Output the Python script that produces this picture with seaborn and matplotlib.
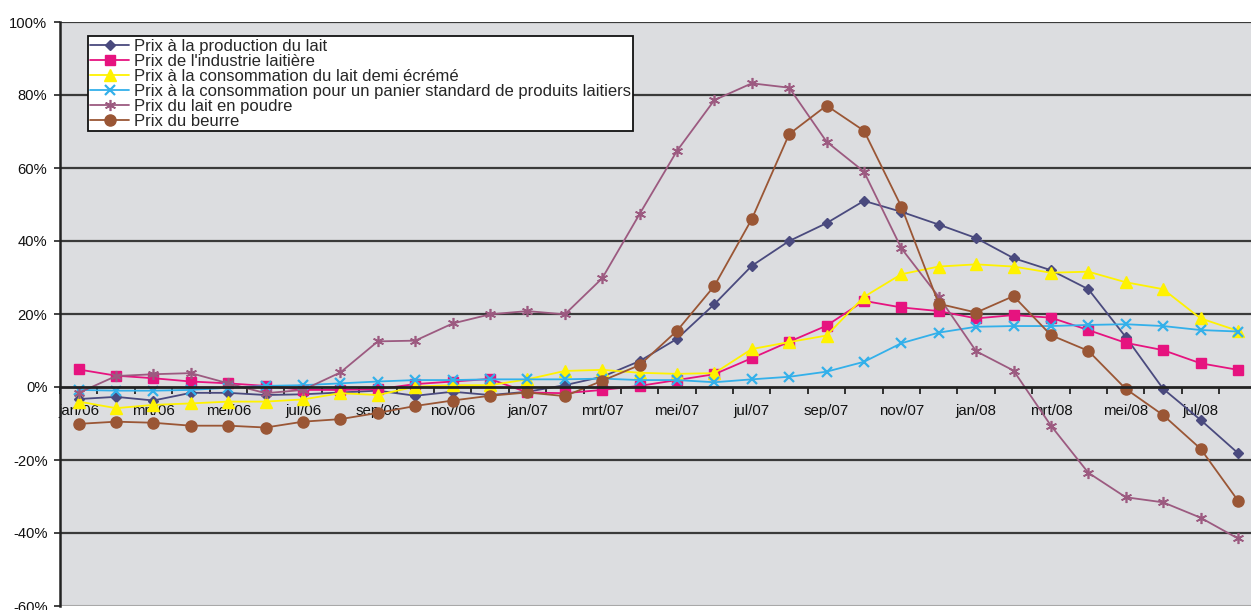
import matplotlib
matplotlib.use("Agg")
import matplotlib.pyplot as plt
import seaborn as sns
import numpy as np
import pandas as pd

months = ["jan/06", "feb/06", "mrt/06", "apr/06", "mei/06", "jun/06", "jul/06", "aug/06",
          "sep/06", "okt/06", "nov/06", "dec/06", "jan/07", "feb/07", "mrt/07", "apr/07",
          "mei/07", "jun/07", "jul/07", "aug/07", "sep/07", "okt/07", "nov/07", "dec/07",
          "jan/08", "feb/08", "mrt/08", "apr/08", "mei/08", "jun/08", "jul/08", "aug/08"]

prix_production = [-3.3, -2.7, -3.7, -1.6, -1.6, -2.2, -2.0, -1.5, -1.0, -2.4, -1.3, -2.2,
                   -1.3, 0.5, 2.8, 7.1, 13.2, 22.7, 33.2, 40.0, 44.9, 51.0, 48.0, 44.5,
                   40.8, 35.3, 32.0, 26.8, 13.7, -0.5, -9.0, -18.1]
prix_industrie = [4.8, 3.1, 2.4, 1.5, 1.0, 0.3, -0.8, -0.8, -0.6, 0.8, 1.5, 2.2,
                  -1.5, -1.7, -0.8, 0.3, 1.9, 3.5, 7.9, 12.4, 16.8, 23.6, 21.8, 20.8,
                  18.8, 19.7, 19.0, 15.6, 12.1, 10.1, 6.5, 4.7]
prix_demi_ecreme = [-4.0, -5.8, -4.9, -4.5, -4.0, -4.0, -3.4, -1.7, -2.2, 0.1, 0.5, 0.5,
                    2.1, 4.4, 4.7, 3.9, 3.6, 3.8, 10.4, 12.3, 14.1, 24.7, 30.9, 33.0,
                    33.6, 33.0, 31.3, 31.6, 28.7, 26.8, 18.8, 15.4]
prix_panier = [-0.8, -1.0, -1.0, -0.8, -0.2, 0.3, 0.5, 1.0, 1.5, 1.9, 1.9, 2.1,
               2.1, 2.1, 2.3, 1.9, 1.9, 1.3, 2.1, 2.8, 4.2, 6.9, 12.0, 14.9,
               16.5, 16.7, 16.7, 17.0, 17.2, 16.7, 15.6, 15.2]
prix_poudre = [-1.6, 3.0, 3.5, 3.8, 1.0, -1.7, -0.8, 4.0, 12.5, 12.7, 17.4, 19.9,
               20.8, 19.9, 29.8, 47.4, 64.7, 78.6, 83.2, 82.0, 67.2, 59.0, 38.0, 24.7,
               9.8, 4.5, -10.6, -23.5, -30.2, -31.6, -35.8, -41.5]
prix_beurre = [-10.1, -9.5, -9.8, -10.6, -10.6, -11.1, -9.5, -8.8, -7.1, -5.2, -3.7, -2.4,
               -1.5, -2.5, 1.7, 6.0, 15.4, 27.7, 46.0, 69.3, 77.1, 70.2, 49.4, 22.8,
               20.4, 24.9, 14.2, 9.9, -0.5, -7.7, -16.9, -31.1]

series_names = ["Prix à la production du lait",
                "Prix de l'industrie laitière",
                "Prix à la consommation du lait demi écrémé",
                "Prix à la consommation pour un panier standard de produits laitiers",
                "Prix du lait en poudre",
                "Prix du beurre"]
series_values = [prix_production, prix_industrie, prix_demi_ecreme,
                 prix_panier, prix_poudre, prix_beurre]
y_ticks = [-60, -40, -20, 0, 20, 40, 60, 80, 100]

styles = [
    dict(color="#4a4a7e", marker="D", markersize=5.5, mfc="#4a4a7e", mec="#4a4a7e"),
    dict(color="#e6137f", marker="s", markersize=7.5, mfc="#e6137f", mec="#e6137f"),
    dict(color="#fff200", marker="^", markersize=8.5, mfc="#fff200", mec="#fff200"),
    dict(color="#33b0ea", marker="x", markersize=7.5, mfc="#33b0ea", mec="#33b0ea", mew=1.6),
    dict(color="#9c5a80", marker=(6, 2, 0), markersize=8, mfc="#9c5a80", mec="#9c5a80", mew=1.2),
    dict(color="#9a5635", marker="o", markersize=8, mfc="#9a5635", mec="#9a5635"),
]

sns.set_theme(style="white")
plt.rcParams["font.family"] = ["Liberation Sans", "DejaVu Sans"]

fig = plt.figure(figsize=(12.51, 6.10), dpi=100)
ax = fig.add_axes([60 / 1251, 4 / 610, 1191 / 1251, 584 / 610])
ax.set_facecolor("#dcdde0")

x = np.arange(len(months))
for name, vals, st in zip(series_names, series_values, styles):
    df = pd.DataFrame({"m": x, "v": vals})
    sns.lineplot(data=df, x="m", y="v", ax=ax, label=name, linewidth=1.3,
                 color=st["color"], marker=st["marker"], markersize=st["markersize"],
                 markerfacecolor=st["mfc"], markeredgecolor=st["mec"],
                 markeredgewidth=st.get("mew", 1.0))

ax.set_xlim(-0.5, 31.35)
ax.set_ylim(-60, 100)

# y axis
ax.set_yticks(y_ticks)
ax.set_yticklabels([f"{v}%" for v in y_ticks], fontsize=10.6, color="#111111")
ax.tick_params(axis="y", direction="out", length=4, width=1.2, color="#222222", pad=5, left=True)
for v in y_ticks:
    if v in (-60, 0):
        continue
    ax.axhline(v, color="#3a3a3a", linewidth=1.6, zorder=0.5)
ax.axhline(-60, color="#a8a8a8", linewidth=1.5, zorder=0.5)

# x axis through 0
ax.spines["bottom"].set_position(("data", 0))
ax.spines["bottom"].set_linewidth(2.0)
ax.spines["bottom"].set_color("#222222")
ax.spines["left"].set_linewidth(1.8)
ax.spines["left"].set_color("#222222")
ax.spines["top"].set_visible(False)
ax.spines["right"].set_visible(False)

ax.set_xticks(np.arange(-0.5, 31.5, 1.0))
ax.set_xticklabels([])
ax.tick_params(axis="x", which="major", direction="out", length=5, width=1.3,
               color="#222222", bottom=True)
ax.set_xticks(x[::2], minor=True)
ax.set_xticklabels(months[::2], minor=True, fontsize=10.8, color="#111111")
ax.tick_params(axis="x", which="minor", length=0, pad=12)
ax.set_xlabel("")
ax.set_ylabel("")

leg = ax.legend(loc="upper left", bbox_to_anchor=(0.0235, 0.976), borderaxespad=0,
                fontsize=12, frameon=True, fancybox=False, framealpha=1,
                edgecolor="#111111", facecolor="white", borderpad=0.15,
                labelspacing=0.0, handlelength=2.3, handletextpad=0.3)
leg.get_frame().set_linewidth(1.3)

fig.savefig("out.png", dpi=100, facecolor="white")
